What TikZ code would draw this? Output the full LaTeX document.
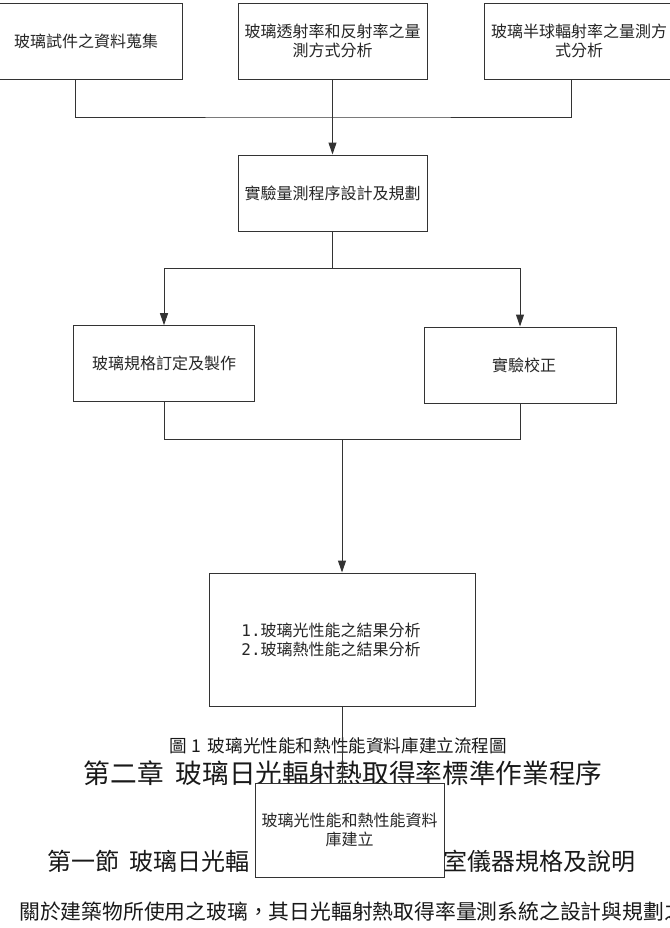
\documentclass[tikz,border=0pt]{standalone}
\usepackage{fontspec}
\setmainfont{Noto Sans CJK TC}
\newfontfamily\digitfont{DejaVu Sans Mono}
\usetikzlibrary{arrows.meta,positioning,calc}

\begin{document}
\begin{tikzpicture}[
    x=0.75pt, y=-0.75pt,
    box/.style={draw=black!80, line width=0.75pt, fill=white, minimum width=141.75pt, minimum height=57pt, align=center, inner sep=0pt, font=\fontsize{12}{14.25}\selectfont, text=black!85},
    txt/.style={inner sep=0pt, text=black!90},
    link/.style={draw=black!80, line width=0.75pt},
    tip/.style={-{Triangle[length=9pt,width=6pt]}}
]
    \useasboundingbox (0,0) rectangle (670,928);

    % document text behind the chart
    \node[txt, anchor=west, font=\fontsize{13.2}{14}\selectfont] (cap) at (169,746) {圖\hspace{3.5pt}1\hspace{5pt}玻璃光性能和熱性能資料庫建立流程圖};
    \node[txt, font=\fontsize{20}{22}\selectfont] (chap) at (343,773) {第二章\hspace{9pt}玻璃日光輻射熱取得率標準作業程序};
    \node[txt, anchor=west, font=\fontsize{18}{20}\selectfont] (secl) at (47,861) {第一節\hspace{8pt}玻璃日光輻};
    \node[txt, anchor=east, font=\fontsize{18}{20}\selectfont] (secr) at (636,861) {室儀器規格及說明};
    \node[txt, anchor=west, font=\fontsize{15.6}{17}\selectfont] (para) at (19,912) {關於建築物所使用之玻璃，其日光輻射熱取得率量測系統之設計與規劃之};

    % flow chart boxes
    \node[box, minimum width=159.75pt] (glass) at (75.5,41) {\hspace*{15.75pt}玻璃試件之資料蒐集};
    \node[box] (trans) at (332.5,41) {玻璃透射率和反射率之量\\測方式分析};
    \node[box, minimum width=142.5pt] (hemi) at (579,41) {玻璃半球輻射率之量測方\\式分析};
    \node[box] (plan) at (332.5,193) {實驗量測程序設計及規劃};
    \node[box, minimum width=136pt, minimum height=56.5pt] (spec) at (164,363.4) {玻璃規格訂定及製作};
    \node[box, minimum width=144pt] (calib) at (520,365) {\hspace*{6pt}實驗校正};
    \node[box, minimum width=199.5pt, minimum height=99.75pt] (result) at (342,639.5)
        {{\digitfont 1.}玻璃光性能之結果分析\hspace*{16.5pt}\\{\digitfont 2.}玻璃熱性能之結果分析\hspace*{16.5pt}};

    \coordinate (j1) at (332.5,117);
    \coordinate (j2) at (332.5,268.3);
    \coordinate (j3) at (342,439.3);

    \draw[link] (glass.south) |- (j1) -| ([xshift=-6pt]hemi.south);
    \draw[link] (trans.south) -- (j1);
    \draw[link, tip] (j1) -- (plan.north);
    \draw[link] (plan.south) -- (j2);
    \draw[link, tip] (j2) -| (spec.north);
    \draw[link, tip] (j2) -| (calib.north);
    \draw[link] (spec.south) |- (j3) -| (calib.south);
    \draw[link, tip] (j3) -- (result.north);

    \node[box, minimum height=70.5pt] (base) at (349.5,830) {玻璃光性能和熱性能資料\\庫建立};
    \draw[link] (result.south) -- (result.south |- base.north);
\end{tikzpicture}
\end{document}
